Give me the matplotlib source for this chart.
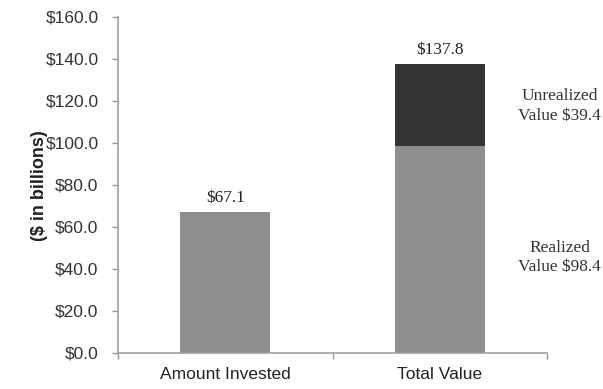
import matplotlib
matplotlib.use("Agg")
import matplotlib.pyplot as plt

categories = ["Amount Invested", "Total Value"]
realized = [67.1, 98.4]
unrealized = [0.0, 39.4]
totals = [67.1, 137.8]
yticks = [0, 20, 40, 60, 80, 100, 120, 140, 160]

fig = plt.figure(figsize=(6.03, 3.89), dpi=100)
ax = fig.add_axes([118/603, 36/389, 429/603, 336/389])

x = list(range(len(categories)))
light = "#8e8e8e"
dark = "#333333"
ax.bar(x, realized, width=0.42, color=light, edgecolor="none")
ax.bar([1], [unrealized[1]], bottom=[realized[1]], width=0.42, color=dark, edgecolor="none")

serif = ["Liberation Serif", "DejaVu Serif"]
for xi, t in zip(x, totals):
    ax.text(xi, t + 2.8, f"${t:.1f}", ha="center", va="bottom", fontsize=12.5,
            family=serif, color="#222222")

ax.text(1.56, 117.5, f"Unrealized\nValue ${unrealized[1]:.1f}",
        ha="center", va="center", fontsize=12.5, family=serif, color="#333333",
        linespacing=1.3, clip_on=False)
ax.text(1.56, 45.5, f"Realized\nValue ${realized[1]:.1f}",
        ha="center", va="center", fontsize=12.5, family=serif, color="#333333",
        linespacing=1.3, clip_on=False)

ax.set_xlim(-0.5, 1.5)
ax.set_ylim(0, 160)
ax.set_yticks(yticks)
ax.set_yticklabels([f"${v:.1f}" for v in yticks], fontsize=12.5, family="Liberation Sans",
                   color="#333333")
ax.set_xticks(x)
ax.set_xticklabels(categories, fontsize=12.5, family="Liberation Sans", color="#222222")
ax.set_xticks([-0.5, 0.5, 1.5], minor=True)
ax.tick_params(axis="x", which="major", length=0, pad=10)
ax.tick_params(axis="x", which="minor", length=4, color="#999999", width=1)
ax.tick_params(axis="y", length=4, color="#999999", width=1, pad=10)

for s in ["top", "right"]:
    ax.spines[s].set_visible(False)
for s in ["left", "bottom"]:
    ax.spines[s].set_color("#a0a0a0")
    ax.spines[s].set_linewidth(1.2)

fig.text(40/603, 0.524, "($ in billions)", rotation=90, ha="center", va="center",
         fontsize=13, fontweight="bold", family="Liberation Sans", color="#222222")

fig.savefig("out.png", dpi=100)
